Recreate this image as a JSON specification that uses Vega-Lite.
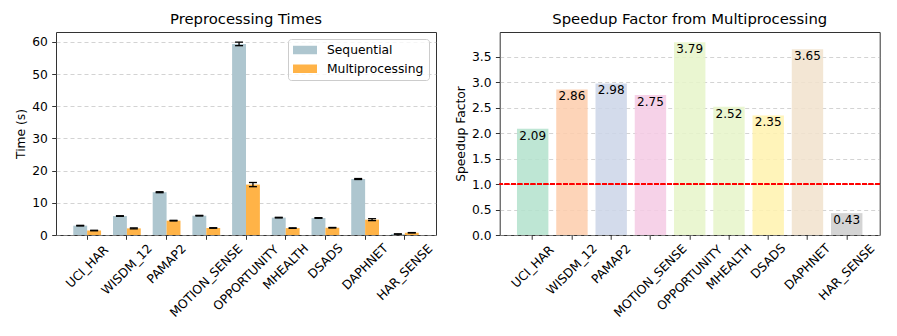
{
  "$schema": "https://vega.github.io/schema/vega-lite/v6.json",
  "padding": {"left": 14, "top": 11, "right": 0, "bottom": 0},
  "bounds": "flush",
  "spacing": 63.7,
  "background": "white",
  "resolve": {"scale": {"color": "independent", "x": "independent", "y": "independent"}, "legend": {"color": "independent"}},
  "config": {
    "font": "DejaVu Sans",
    "view": {"stroke": "#333333", "strokeWidth": 1},
    "axis": {
      "domain": false,
      "tickSize": 4.3,
      "tickColor": "#333333",
      "tickWidth": 1,
      "labelFontSize": 12.3,
      "labelColor": "#000000",
      "labelPadding": 4.3,
      "titleFontSize": 12.3,
      "titleFontWeight": "normal",
      "titleColor": "#000000",
      "titlePadding": 4
    },
    "axisX": {"grid": false},
    "axisY": {"grid": true, "gridDash": [4, 3], "gridColor": "#b0b0b0", "gridOpacity": 0.7, "gridWidth": 0.8, "tickCount": 20, "labelOverlap": false},
    "title": {"fontSize": 14.8, "fontWeight": "normal", "color": "#000000", "offset": 5}
  },
  "datasets": {
    "times": [
      {"dataset": "UCI_HAR", "method": "Sequential", "time": 2.9, "err": 0.1},
      {"dataset": "UCI_HAR", "method": "Multiprocessing", "time": 1.39, "err": 0.08},
      {"dataset": "WISDM_12", "method": "Sequential", "time": 5.9, "err": 0.1},
      {"dataset": "WISDM_12", "method": "Multiprocessing", "time": 2.06, "err": 0.15},
      {"dataset": "PAMAP2", "method": "Sequential", "time": 13.3, "err": 0.15},
      {"dataset": "PAMAP2", "method": "Multiprocessing", "time": 4.46, "err": 0.1},
      {"dataset": "MOTION_SENSE", "method": "Sequential", "time": 6.0, "err": 0.1},
      {"dataset": "MOTION_SENSE", "method": "Multiprocessing", "time": 2.18, "err": 0.08},
      {"dataset": "OPPORTUNITY", "method": "Sequential", "time": 59.4, "err": 0.55},
      {"dataset": "OPPORTUNITY", "method": "Multiprocessing", "time": 15.67, "err": 0.65},
      {"dataset": "MHEALTH", "method": "Sequential", "time": 5.4, "err": 0.1},
      {"dataset": "MHEALTH", "method": "Multiprocessing", "time": 2.14, "err": 0.08},
      {"dataset": "DSADS", "method": "Sequential", "time": 5.3, "err": 0.1},
      {"dataset": "DSADS", "method": "Multiprocessing", "time": 2.26, "err": 0.08},
      {"dataset": "DAPHNET", "method": "Sequential", "time": 17.4, "err": 0.15},
      {"dataset": "DAPHNET", "method": "Multiprocessing", "time": 4.77, "err": 0.3},
      {"dataset": "HAR_SENSE", "method": "Sequential", "time": 0.3, "err": 0.05},
      {"dataset": "HAR_SENSE", "method": "Multiprocessing", "time": 0.7, "err": 0.05}
    ],
    "speedup": [
      {"dataset": "UCI_HAR", "speedup": 2.09},
      {"dataset": "WISDM_12", "speedup": 2.86},
      {"dataset": "PAMAP2", "speedup": 2.98},
      {"dataset": "MOTION_SENSE", "speedup": 2.75},
      {"dataset": "OPPORTUNITY", "speedup": 3.79},
      {"dataset": "MHEALTH", "speedup": 2.52},
      {"dataset": "DSADS", "speedup": 2.35},
      {"dataset": "DAPHNET", "speedup": 3.65},
      {"dataset": "HAR_SENSE", "speedup": 0.43}
    ]
  },
  "hconcat": [
    {
      "width": 380,
      "height": 203,
      "title": "Preprocessing Times",
      "data": {"name": "times"},
      "encoding": {
        "x": {
          "field": "dataset", "type": "nominal", "sort": null, "title": null,
          "scale": {"paddingInner": 0, "paddingOuter": 0.285},
          "axis": {
            "labelAngle": -45, "labelAlign": "center", "labelBaseline": "middle",
            "labelPadding": {"expr": "4.3 + (length(datum.label) * 7.9 + 9) * 0.3536"}
          }
        },
        "xOffset": {
          "field": "method", "type": "nominal", "sort": ["Sequential", "Multiprocessing"],
          "scale": {"domain": ["Sequential", "Multiprocessing"], "paddingInner": 0, "paddingOuter": 0.4286}
        }
      },
      "layer": [
        {
          "mark": {"type": "bar"},
          "encoding": {
            "y": {
              "field": "time", "type": "quantitative",
              "scale": {"domain": [0, 63.1], "nice": false, "zero": true},
              "axis": {"title": "Time (s)", "values": [0, 10, 20, 30, 40, 50, 60], "tickCount": 20}
            },
            "color": {
              "field": "method", "type": "nominal",
              "scale": {"domain": ["Sequential", "Multiprocessing"], "range": ["#AEC6CF", "#FFB347"]},
              "legend": {
                "title": null, "orient": "top-right", "offset": 7,
                "padding": 5, "rowPadding": 5.7, "clipHeight": 12,
                "symbolType": "M-1,-0.35L1,-0.35L1,0.35L-1,0.35Z",
                "symbolSize": 576, "symbolStrokeWidth": 0, "symbolOpacity": 1,
                "labelFontSize": 12.3, "labelColor": "#000000", "labelOffset": 10,
                "strokeColor": "#cccccc", "fillColor": "rgba(255,255,255,0.8)", "cornerRadius": 3
              }
            }
          }
        },
        {
          "transform": [
            {"calculate": "datum.time - datum.err", "as": "lo"},
            {"calculate": "datum.time + datum.err", "as": "hi"}
          ],
          "mark": {"type": "rule", "color": "#000000", "strokeWidth": 1.3},
          "encoding": {
            "y": {"field": "lo", "type": "quantitative"},
            "y2": {"field": "hi"}
          }
        },
        {
          "transform": [{"calculate": "datum.time - datum.err", "as": "lo"}],
          "mark": {"type": "tick", "orient": "horizontal", "size": 8, "thickness": 1.3, "color": "#000000", "opacity": 1},
          "encoding": {"y": {"field": "lo", "type": "quantitative"}}
        },
        {
          "transform": [{"calculate": "datum.time + datum.err", "as": "hi"}],
          "mark": {"type": "tick", "orient": "horizontal", "size": 8, "thickness": 1.3, "color": "#000000", "opacity": 1},
          "encoding": {"y": {"field": "hi", "type": "quantitative"}}
        }
      ]
    },
    {
      "width": 380,
      "height": 203,
      "title": "Speedup Factor from Multiprocessing",
      "data": {"name": "speedup"},
      "layer": [
        {
          "mark": {"type": "bar", "opacity": 0.85},
          "encoding": {
            "x": {
              "field": "dataset", "type": "nominal", "sort": null, "title": null,
              "scale": {"paddingInner": 0.2, "paddingOuter": 0.44},
              "axis": {
                "labelAngle": -45, "labelAlign": "center", "labelBaseline": "middle",
                "labelPadding": {"expr": "4.3 + (length(datum.label) * 7.9 + 9) * 0.3536"}
              }
            },
            "y": {
              "field": "speedup", "type": "quantitative",
              "scale": {"domain": [0, 3.99], "nice": false},
              "axis": {"title": "Speedup Factor", "values": [0, 0.5, 1, 1.5, 2, 2.5, 3, 3.5], "format": ".1f", "tickCount": 20}
            },
            "color": {
              "field": "dataset", "type": "nominal", "sort": null,
              "scale": {
                "domain": ["UCI_HAR", "WISDM_12", "PAMAP2", "MOTION_SENSE", "OPPORTUNITY", "MHEALTH", "DSADS", "DAPHNET", "HAR_SENSE"],
                "range": ["#b3e2cd", "#fdcdac", "#cbd5e8", "#f4cae4", "#e6f5c9", "#e6f5c9", "#fff2ae", "#f1e2cc", "#cccccc"]
              },
              "legend": null
            }
          }
        },
        {
          "mark": {"type": "text", "baseline": "top", "dy": 2, "fontSize": 12, "color": "#000000"},
          "encoding": {
            "x": {"field": "dataset", "type": "nominal", "sort": null},
            "y": {"field": "speedup", "type": "quantitative"},
            "text": {"field": "speedup", "type": "quantitative", "format": ".2f"}
          }
        },
        {
          "mark": {"type": "rule", "color": "#ff0000", "strokeWidth": 1.2, "strokeDash": [4.5, 2]},
          "encoding": {"y": {"datum": 1}}
        }
      ]
    }
  ]
}
